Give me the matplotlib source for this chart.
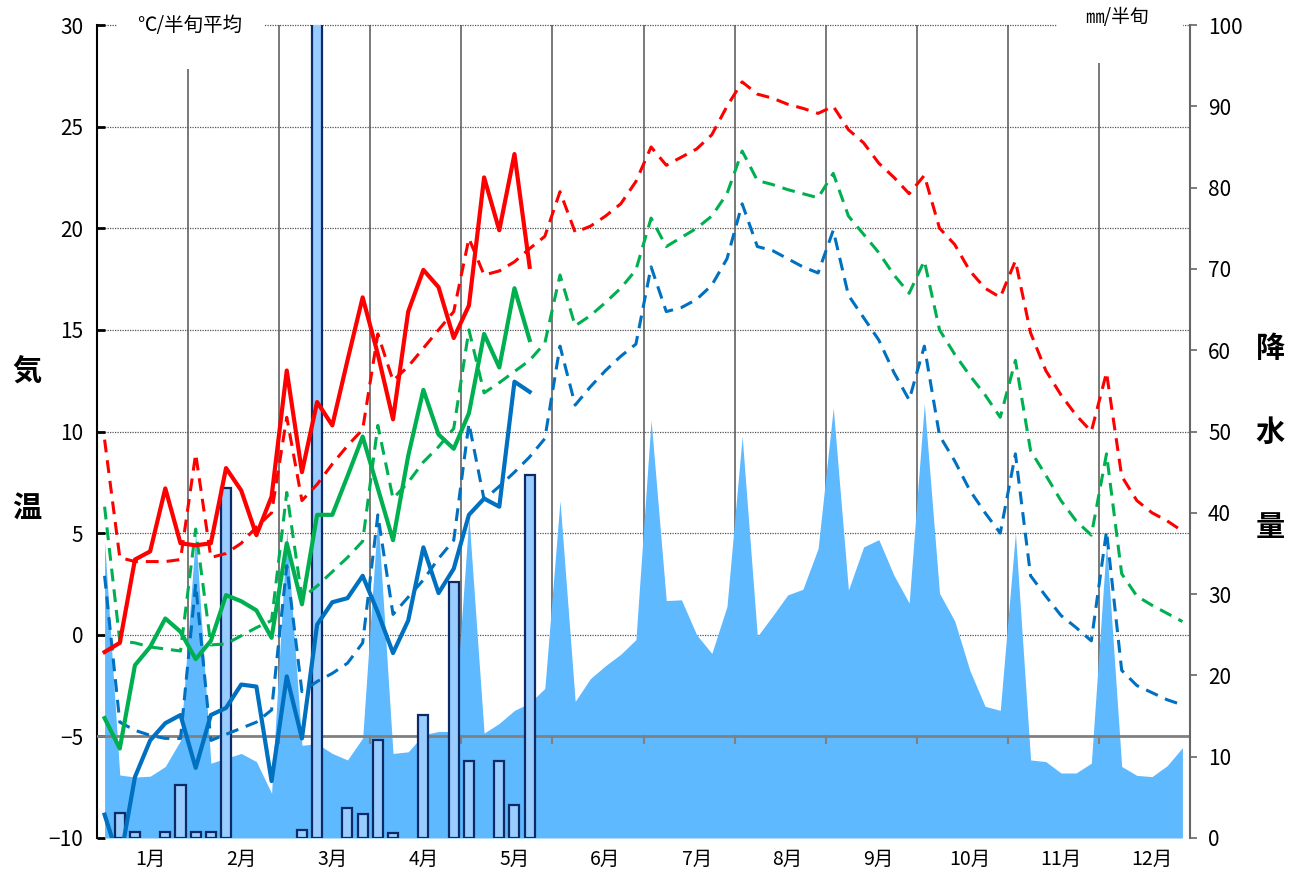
import numpy as np
import matplotlib.pyplot as plt
from matplotlib.patches import Rectangle

plt.rcParams['font.family'] = ['Noto Sans CJK JP', 'DejaVu Sans']

# month labels (6 half-decades per month)
months = ['1月', '2月', '3月', '4月', '5月', '6月', '7月', '8月', '9月', '10月', '11月', '12月']

# normal values per half-decade (72)
norm_max = [9.6, 3.8, 3.6, 3.6, 3.6, 3.7, 8.9, 3.8, 4.0, 4.5, 5.3, 6.0,
            10.7, 6.6, 7.4, 8.4, 9.3, 10.1, 14.8, 12.5, 13.2, 14.1, 15.0, 15.9,
            19.5, 17.7, 17.9, 18.35, 19.0, 19.6, 21.8, 19.8, 20.1, 20.6, 21.2, 22.3,
            24.0, 23.1, 23.5, 23.9, 24.6, 26.0, 27.2, 26.6, 26.4, 26.1, 25.9, 25.65,
            26.0, 24.85, 24.2, 23.2, 22.5, 21.7, 22.6, 20.0, 19.2, 17.9, 17.05, 16.6,
            18.4, 14.85, 13.0, 11.8, 10.8, 10.0, 12.9, 7.8, 6.6, 6.0, 5.6, 5.1]
norm_avg = [6.3, -0.3, -0.4, -0.6, -0.7, -0.8, 5.2, -0.5, -0.45, -0.05, 0.35, 0.7,
            7.0, 1.8, 2.4, 3.1, 3.8, 4.6, 10.3, 6.7, 7.5, 8.5, 9.25, 10.15,
            15.0, 11.9, 12.4, 12.95, 13.5, 14.35, 17.7, 15.2, 15.7, 16.35, 17.05, 17.95,
            20.5, 19.1, 19.55, 20.0, 20.6, 21.7, 23.8, 22.35, 22.15, 21.9, 21.7, 21.5,
            22.7, 20.6, 19.7, 18.8, 17.7, 16.8, 18.4, 15.0, 13.8, 12.75, 11.8, 10.7,
            13.5, 9.05, 7.85, 6.6, 5.6, 4.9, 8.9, 3.0, 1.9, 1.45, 1.05, 0.65]
norm_min = [2.9, -4.3, -4.7, -4.95, -5.1, -5.1, 2.5, -5.2, -4.9, -4.6, -4.3, -3.7,
            3.4, -2.8, -2.3, -1.9, -1.4, -0.4, 5.9, 1.0, 1.85, 2.7, 3.75, 4.65,
            10.4, 6.65, 7.3, 8.0, 8.75, 9.65, 14.2, 11.3, 12.2, 13.0, 13.7, 14.3,
            18.1, 15.9, 16.1, 16.5, 17.2, 18.5, 21.2, 19.1, 18.9, 18.5, 18.1, 17.8,
            19.9, 16.7, 15.6, 14.5, 12.9, 11.55, 14.2, 9.8, 8.55, 7.1, 6.0, 5.0,
            8.9, 2.9, 1.9, 0.95, 0.35, -0.3, 5.1, -1.75, -2.5, -2.85, -3.2, -3.45]
norm_prec = [36.5, 7.75, 7.5, 7.6, 8.8, 12.0, 37.5, 9.2, 9.8, 10.4, 9.4, 5.5,
             37.8, 11.4, 11.6, 10.4, 9.6, 12.3, 39.7, 10.4, 10.6, 12.7, 13.1, 13.1,
             39.5, 12.9, 14.1, 15.7, 16.6, 18.4, 41.5, 16.8, 19.6, 21.2, 22.6, 24.4,
             51.4, 29.2, 29.3, 25.0, 22.7, 28.5, 49.4, 24.8, 27.3, 29.9, 30.6, 35.6,
             52.9, 30.5, 35.8, 36.7, 32.3, 28.9, 53.4, 30.1, 26.7, 20.6, 16.2, 15.7,
             37.5, 9.6, 9.4, 8.0, 8.0, 9.2, 36.3, 8.8, 7.7, 7.55, 8.9, 11.1]

# observed values (29 half-decades)
obs_max = [-0.85, -0.4, 3.7, 4.1, 7.2, 4.5, 4.4, 4.5, 8.2, 7.1, 4.9, 6.8,
           13.0, 8.0, 11.45, 10.3, 13.5, 16.6, 13.8, 10.6, 15.9, 17.95, 17.1, 14.6,
           16.2, 22.5, 19.9, 23.65, 18.1]
obs_avg = [-4.1, -5.6, -1.5, -0.6, 0.8, 0.15, -1.2, -0.3, 1.95, 1.65, 1.2, -0.15,
           4.5, 1.5, 5.9, 5.9, 7.8, 9.75, 7.2, 4.65, 8.8, 12.05, 9.85, 9.15,
           10.9, 14.8, 13.15, 17.05, 14.5]
obs_min = [-8.85, -11.2, -7.0, -5.2, -4.35, -3.95, -6.55, -3.95, -3.6, -2.45, -2.55, -7.2,
           -2.05, -5.1, 0.5, 1.6, 1.8, 2.9, 1.1, -0.9, 0.7, 4.3, 2.05, 3.25,
           5.9, 6.7, 6.3, 12.45, 11.95]
obs_prec = [0, 3.1, 0.7, 0, 0.7, 6.5, 0.7, 0.7, 43.0, 0, 0, 0,
            0, 1.0, 125.0, 0, 3.65, 3.0, 12.1, 0.65, 0, 15.1, 0, 31.5,
            9.5, 0, 9.5, 4.05, 44.6]

x_all = np.arange(len(norm_max))
x_obs = np.arange(len(obs_max))
bounds = np.arange(6, 72, 6) - 0.5

W, H = 1295, 885
fig = plt.figure(figsize=(W / 100, H / 100), dpi=100)
rect = [97 / W, 1 - 838 / H, (1190 - 97) / W, (838 - 25) / H]

ax_g = fig.add_axes(rect)
axp = fig.add_axes(rect, sharex=ax_g)
ax = fig.add_axes(rect, sharex=ax_g)
axp.patch.set_visible(False)
ax.patch.set_visible(False)

# background: grid and month lines
ax_g.set_xlim(-0.5, 71.5)
ax_g.set_ylim(-10, 30)
for v in range(0, 31, 5):
    ax_g.axhline(v, color='#555555', lw=0.9, ls=(0, (1, 1)), clip_on=False, zorder=1)
for b in bounds:
    ax_g.axvline(b, color='#555555', lw=1.1, zorder=1)
ax_g.set_yticks(range(-10, 31, 5))
ax_g.tick_params(axis='y', direction='in', length=6, width=2, labelsize=15, pad=10)
ax_g.set_xticks(np.arange(12) * 6 + 3)
ax_g.set_xticklabels(months, fontsize=14)
ax_g.tick_params(axis='x', length=0, pad=8)
for s in ['top', 'right', 'bottom']:
    ax_g.spines[s].set_visible(False)
ax_g.spines['left'].set_linewidth(1.5)

# precipitation
axp.set_ylim(0, 100)
axp.fill_between(x_all, norm_prec, color='#5EB9FF', lw=0, zorder=1)
axp.plot([-0.5, 71.5], [-5, -5], transform=ax_g.transData, color='#808080', lw=2, zorder=2)
for b in bounds:
    axp.plot([b, b], [-5, -5.35], transform=ax_g.transData, color='#808080', lw=1.5, zorder=2)
prec = np.array(obs_prec, dtype=float)
keep = prec > 0
axp.bar(x_obs[keep], prec[keep], width=0.66, color='#99CCFF', edgecolor='#0B2A66',
        lw=1.6, zorder=3)
axp.yaxis.tick_right()
axp.set_yticks(range(0, 101, 10))
axp.tick_params(axis='y', direction='out', length=5, width=1.2, labelsize=15, pad=8,
                color='#666666')
axp.tick_params(axis='x', bottom=False, labelbottom=False)
for s in ['top', 'left', 'bottom']:
    axp.spines[s].set_visible(False)
axp.spines['right'].set_color('#666666')
axp.spines['right'].set_linewidth(1.5)

# temperature lines
ax.set_ylim(-10, 30)
ax.axis('off')
dash = (0, (4.2, 2.6))
ax.plot(x_all, norm_max, color='#FF0000', lw=2.2, ls=dash)
ax.plot(x_all, norm_avg, color='#00B050', lw=2.2, ls=dash)
ax.plot(x_all, norm_min, color='#0070C0', lw=2.2, ls=dash)
ax.plot(x_obs, obs_max, color='#FF0000', lw=3)
ax.plot(x_obs, obs_avg, color='#00B050', lw=3)
ax.plot(x_obs, obs_min, color='#0070C0', lw=3)

# unit labels with white boxes
fig.add_artist(Rectangle((117 / W, 1 - 69 / H), (265 - 117) / W, 69 / H,
                         transform=fig.transFigure, facecolor='white', edgecolor='none', zorder=5))
fig.add_artist(Rectangle((1057 / W, 1 - 63 / H), (1183 - 1057) / W, 63 / H,
                         transform=fig.transFigure, facecolor='white', edgecolor='none', zorder=5))
fig.text(137 / W, 1 - 25 / H, '℃/半旬平均', ha='left', va='center', fontsize=14, zorder=6)
fig.text(1085 / W, 1 - 18 / H, '㎜/半旬', ha='left', va='center', fontsize=13.5, zorder=6)

# axis titles, one character each
for ch, yy in [('気', 372), ('温', 508)]:
    fig.text(27 / W, 1 - yy / H, ch, ha='center', va='center', fontsize=21, fontweight='bold')
for ch, yy in [('降', 348), ('水', 432), ('量', 527)]:
    fig.text(1270 / W, 1 - yy / H, ch, ha='center', va='center', fontsize=21, fontweight='bold')

fig.savefig('out.png', dpi=100)
